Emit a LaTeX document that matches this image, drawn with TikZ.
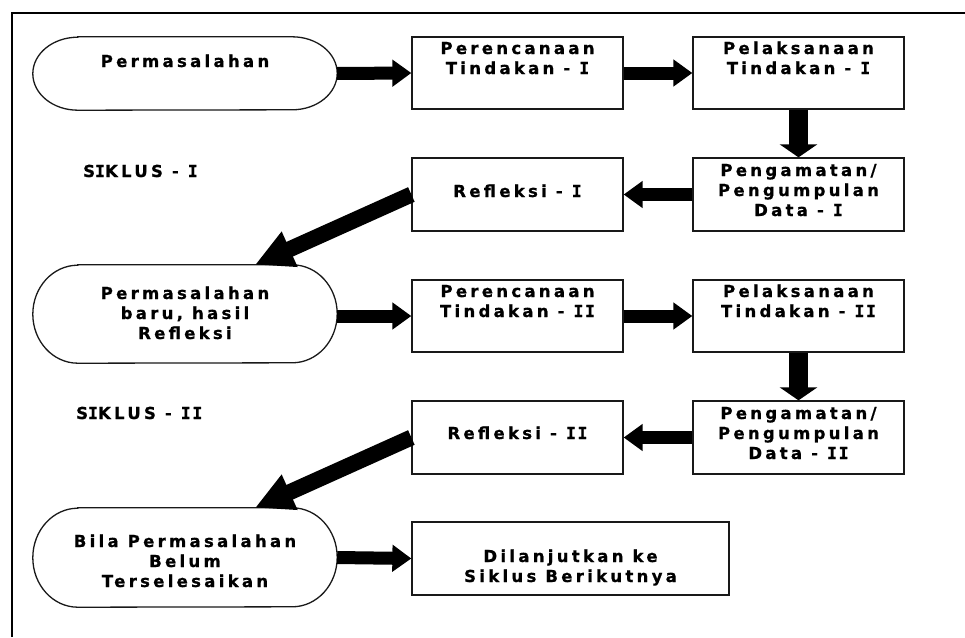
\documentclass[tikz,border=0pt]{standalone}
\usepackage{fontspec}
\newfontfamily\vfont{DejaVu Sans Bold}[LetterSpace=20, FakeBold=0.8]
\newfontfamily\vmono{DejaVu Sans Mono Bold}[LetterSpace=10, FakeBold=0.8]
\newcommand\vI{{\vmono I}}
\usetikzlibrary{arrows.meta}
\newcommand\bxt[4]{\parbox[c][#1][t]{#2}{\centering\rule{0pt}{#3}#4\par}}
\newcommand\stad[2]{\draw[frm] ([xshift=45pt]#1.north west) -- ([xshift=-45pt]#1.north east)
  arc[start angle=90,end angle=-90,x radius=45pt,y radius=#2]
  -- ([xshift=45pt]#1.south west)
  arc[start angle=270,end angle=90,x radius=45pt,y radius=#2] -- cycle;}
\tikzset{
  txt/.style={font=\vfont\fontsize{16.5}{20}\selectfont},
  frm/.style={line width=1.3pt, draw=black!90},
  boxn/.style={txt, frm, draw, inner sep=0pt},
  stadn/.style={txt, inner sep=0pt},
  harr/.style={line width=13pt, -{Triangle[length=19pt,width=26pt]}},
  varr/.style={line width=19pt, -{Triangle[length=13pt,width=37pt]}},
  darr/.style={line width=16pt, -{Triangle[length=38pt,width=36pt]}},
}
\begin{document}
\begin{tikzpicture}[x=1pt,y=-1pt]
\useasboundingbox (0,0) rectangle (965,637);
\draw[line width=1.3pt] (12,637) -- (12,13) -- (965,13);
% row 1
\node[stadn] (p1) at (185,73.5) {\bxt{73pt}{304pt}{30pt}{Permasalahan}};
\stad{p1}{36.5pt}
\node[boxn] (b1) at (517.5,73) {\bxt{72pt}{211pt}{17pt}{Perencanaan\\Tindakan - \vI}};
\node[boxn] (b2) at (798.5,73) {\bxt{72pt}{211pt}{17pt}{Pelaksanaan\\Tindakan - \vI}};
\node[boxn] (b3) at (798.5,194.5) {\bxt{73pt}{211pt}{18pt}{Pengamatan/\\Pengumpulan\\Data - \vI}};
\node[boxn] (b4) at (517.5,194.5) {\bxt{73pt}{211pt}{39pt}{Refleksi - \vI}};
\node[txt, anchor=base west, inner sep=0pt] (s1) at (83,177) {S\vI KLUS - \vI};
% row 2
\node[stadn] (p2) at (185,314) {\bxt{98pt}{304pt}{34pt}{Permasalahan\\baru, hasil\\Refleksi}};
\stad{p2}{49pt}
\node[boxn] (b5) at (517.5,316) {\bxt{72pt}{211pt}{17pt}{Perencanaan\\Tindakan - \vI\vI}};
\node[boxn] (b6) at (798.5,316) {\bxt{72pt}{211pt}{17pt}{Pelaksanaan\\Tindakan - \vI\vI}};
\node[boxn] (b7) at (798.5,437.5) {\bxt{73pt}{211pt}{18pt}{Pengamatan/\\Pengumpulan\\Data - \vI\vI}};
\node[boxn] (b8) at (517.5,437.5) {\bxt{73pt}{211pt}{38pt}{Refleksi - \vI\vI}};
\node[txt, anchor=base west, inner sep=0pt] (s2) at (76,419) {S\vI KLUS - \vI\vI};
% row 3
\node[stadn] (p3) at (185,557.5) {\bxt{99pt}{304pt}{39pt}{Bila Permasalahan\\Belum\\Terselesaikan}};
\stad{p3}{49.5pt}
\node[boxn] (b9) at (570.5,558.5) {\bxt{73pt}{317pt}{40pt}{Dilanjutkan ke\\Siklus Berikutnya}};
% arrows
\draw[harr] (p1.east) -- (b1.west);
\draw[harr] (b1.east) -- (b2.west);
\draw[varr] (b2.south) -- (b3.north);
\draw[harr] (b3.west) -- (b4.east);
\draw[darr] (b4.west) -- ([xshift=70pt]p2.north);
\draw[harr] (p2.east |- b5.west) -- (b5.west);
\draw[harr] (b5.east) -- (b6.west);
\draw[varr] (b6.south) -- (b7.north);
\draw[harr] (b7.west) -- (b8.east);
\draw[darr] (b8.west) -- ([xshift=70pt]p3.north);
\draw[harr] (p3.east) -- (b9.west);
\end{tikzpicture}
\end{document}
